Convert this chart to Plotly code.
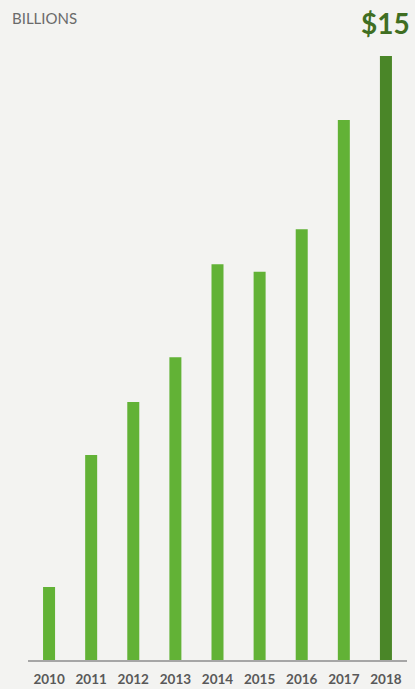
import plotly.graph_objects as go

years = ["2010", "2011", "2012", "2013", "2014", "2015", "2016", "2017", "2018"]
values = [1.81, 5.09, 6.41, 7.52, 9.83, 9.64, 10.70, 13.41, 15.0]
colors = ["#62b236"] * 8 + ["#4a8628"]

fig = go.Figure()
fig.add_trace(go.Bar(
    x=years, y=values,
    marker=dict(color=colors, line=dict(width=0)),
    width=0.285,
    hoverinfo="x+y",
))

fig.update_layout(
    width=415, height=689,
    margin=dict(l=28, r=8, t=56, b=29, autoexpand=False),
    paper_bgcolor="#f3f3f1", plot_bgcolor="#f3f3f1",
    showlegend=False,
    xaxis=dict(
        type="category", range=[-0.5, 8.5], automargin=False,
        showgrid=False, zeroline=False,
        showline=True, linecolor="#a6a6a6", linewidth=2,
        ticks="", tickfont=dict(family="Lato", size=13.5, color="#595959", weight="bold"),
        ticklabelstandoff=6,
    ),
    yaxis=dict(range=[0, 15], visible=False, showgrid=False, zeroline=False, automargin=False),
    font=dict(family="Lato"),
    annotations=[
        dict(text="BILLIONS", x=10, y=689 - 7, xref="paper", yref="paper",
             showarrow=False, xanchor="left", yanchor="top",
             font=dict(family="Lato", size=15, color="#6a6a6a")),
        dict(text="<b>$15</b>", x=412, y=689 - 4, xref="paper", yref="paper",
             showarrow=False, xanchor="right", yanchor="top",
             font=dict(family="Lato", size=28, color="#3f6e22")),
    ],
)

# convert pixel-based annotation positions into paper coordinates
plot_w = 415 - 28 - 8
plot_h = 689 - 56 - 29
for a in fig.layout.annotations:
    a.x = (a.x - 28) / plot_w
    a.y = (a.y - 29) / plot_h

fig.write_html("out.html")
